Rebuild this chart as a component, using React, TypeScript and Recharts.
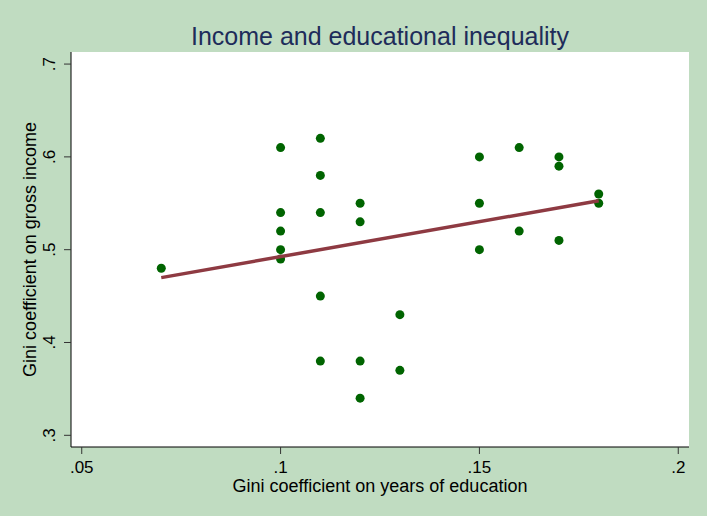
import React from "react";
import {
  ScatterChart,
  Scatter,
  XAxis,
  YAxis,
  CartesianGrid,
  ReferenceArea,
} from "recharts";

// Gini on years of education (x) vs Gini on gross income (y)
const eduGini = [
  0.07,
  0.1, 0.1, 0.1, 0.1, 0.1,
  0.11, 0.11, 0.11, 0.11, 0.11,
  0.12, 0.12, 0.12, 0.12,
  0.13, 0.13,
  0.15, 0.15, 0.15,
  0.16, 0.16,
  0.17, 0.17, 0.17,
  0.18, 0.18,
];
const incomeGini = [
  0.48,
  0.61, 0.54, 0.52, 0.5, 0.49,
  0.62, 0.58, 0.54, 0.45, 0.38,
  0.55, 0.53, 0.38, 0.34,
  0.43, 0.37,
  0.6, 0.55, 0.5,
  0.61, 0.52,
  0.6, 0.59, 0.51,
  0.56, 0.55,
];
const xTicks = [0.05, 0.1, 0.15, 0.2];
const yTicks = [0.3, 0.4, 0.5, 0.6, 0.7];
const xTickLabels = [".05", ".1", ".15", ".2"];
const yTickLabels = [".3", ".4", ".5", ".6", ".7"];
const xDomain = [0.0473, 0.2027];
const yDomain = [0.2874, 0.713];

const points = eduGini.map((x, i) => ({ x, y: incomeGini[i] }));

// linear fit (like Stata's lfit)
const n = points.length;
const mx = eduGini.reduce((a, b) => a + b, 0) / n;
const my = incomeGini.reduce((a, b) => a + b, 0) / n;
let sxy = 0;
let sxx = 0;
points.forEach((p) => {
  sxy += (p.x - mx) * (p.y - my);
  sxx += (p.x - mx) * (p.x - mx);
});
const slope = sxy / sxx;
const icpt = my - slope * mx;
const xMin = Math.min(...eduGini);
const xMax = Math.max(...eduGini);
const fitLine = [
  { x: xMin, y: icpt + slope * xMin },
  { x: xMax, y: icpt + slope * xMax },
];

const FONT = "'Liberation Sans Narrow', 'Liberation Sans', Arial, sans-serif";

const Dot = (props: any) => {
  const { cx, cy } = props;
  return <circle cx={cx} cy={cy} r={4.5} fill="#006400" />;
};

const XTick = (props: any) => {
  const { x, y, payload } = props;
  const idx = xTicks.indexOf(payload.value);
  return (
    <text x={x} y={y + 17} textAnchor="middle" fontSize={17} fontFamily={FONT} fill="#000">
      {xTickLabels[idx]}
    </text>
  );
};

const YTick = (props: any) => {
  const { x, y, payload } = props;
  const idx = yTicks.indexOf(payload.value);
  return (
    <text
      x={x - 7}
      y={y}
      transform={`rotate(-90, ${x - 7}, ${y})`}
      textAnchor="middle"
      fontSize={17}
      fontFamily={FONT}
      fill="#000"
    >
      {yTickLabels[idx]}
    </text>
  );
};

export default function App() {
  return (
    <div
      style={{
        position: "absolute",
        left: 0,
        top: 0,
        width: 707,
        height: 516,
        background: "#C0DCC1",
      }}
    >
      <ScatterChart
        width={707}
        height={516}
        margin={{ top: 52, right: 18, left: 0, bottom: 0 }}
      >
        <text
          x={380}
          y={45}
          textAnchor="middle"
          fontSize={25}
          fontFamily={FONT}
          fill="#1E2C5A"
        >
          Income and educational inequality
        </text>
        <ReferenceArea
          x1={xDomain[0]}
          x2={xDomain[1]}
          y1={yDomain[0]}
          y2={yDomain[1]}
          fill="#ffffff"
          fillOpacity={1}
          stroke="none"
          ifOverflow="hidden"
        />
        <CartesianGrid
          vertical={false}
          horizontalValues={yTicks}
          stroke="#EAF0F2"
          strokeWidth={1.5}
        />
        <XAxis
          type="number"
          dataKey="x"
          domain={xDomain}
          ticks={xTicks}
          tick={<XTick />}
          tickSize={7}
          tickLine={{ stroke: "#333" }}
          height={69}
          stroke="#000"
          allowDataOverflow
          label={{
            value: "Gini coefficient on years of education",
            position: "insideBottom",
            offset: 24,
            fontSize: 18,
            fontFamily: FONT,
            fill: "#000",
          }}
        />
        <YAxis
          type="number"
          dataKey="y"
          domain={yDomain}
          ticks={yTicks}
          tick={<YTick />}
          tickSize={7}
          tickLine={{ stroke: "#333" }}
          width={71}
          stroke="#000"
          allowDataOverflow
          label={{
            value: "Gini coefficient on gross income",
            angle: -90,
            position: "insideLeft",
            offset: 30,
            style: { textAnchor: "middle" },
            fontSize: 18,
            fontFamily: FONT,
            fill: "#000",
          }}
        />
        <Scatter data={points} shape={<Dot />} isAnimationActive={false} />
        <Scatter
          data={fitLine}
          line={{ stroke: "#8E3A42", strokeWidth: 3.5 }}
          shape={() => null}
          isAnimationActive={false}
        />
      </ScatterChart>
    </div>
  );
}
